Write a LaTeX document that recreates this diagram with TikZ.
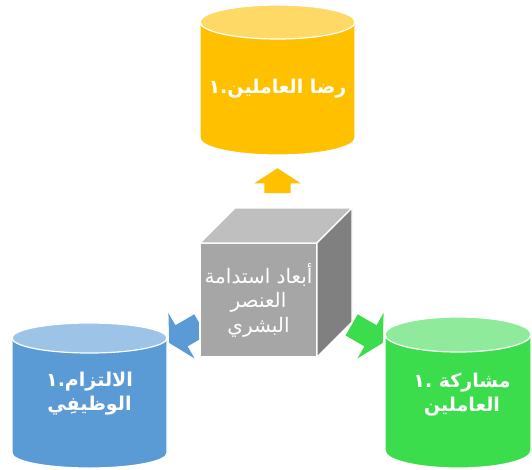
\documentclass[tikz,border=0pt]{standalone}
\usepackage{fontspec}
\newfontfamily\arabicfont[Script=Arabic]{DejaVu Sans}
\TeXXeTstate=1
\usepackage{xcolor}
\usetikzlibrary{shapes.arrows,positioning}

\definecolor{goldbody}{HTML}{FFC000}
\definecolor{goldtop}{HTML}{FFD966}
\definecolor{bluebody}{HTML}{5B9BD5}
\definecolor{bluetop}{HTML}{9DC3E6}
\definecolor{greenbody}{HTML}{3CDD4C}
\definecolor{greentop}{HTML}{8FEA9B}
\definecolor{cubefront}{HTML}{A6A6A6}
\definecolor{cubetop}{HTML}{BFBFBF}
\definecolor{cubeside}{HTML}{808080}

\begin{document}
\begin{tikzpicture}[
  x=1pt, y=1pt,
  rim/.style={draw=white, line width=1.2pt},
  lbl/.style={text=white, align=center, font=\arabicfont\bfseries\fontsize{19}{24}\selectfont},
  blockarrow/.style={single arrow, draw=none, inner xsep=0pt, minimum width=0pt, anchor=tip}]
\useasboundingbox (0,0) rectangle (532,-469);
% cylinders
\filldraw[rim, fill=goldbody] (200,-22) -- (200,-138)
  arc[start angle=180, end angle=360, x radius=77.5, y radius=17] -- (355,-22) -- cycle;
\filldraw[rim, fill=goldtop] (277.5,-22) ellipse[x radius=77.5, y radius=17];
\filldraw[rim, fill=bluebody] (12,-338) -- (12,-453)
  arc[start angle=180, end angle=360, x radius=77.5, y radius=15] -- (167,-338) -- cycle;
\filldraw[rim, fill=bluetop] (89.5,-338) ellipse[x radius=77.5, y radius=15];
\filldraw[rim, fill=greenbody] (385,-334.5) -- (385,-450.5)
  arc[start angle=180, end angle=360, x radius=73, y radius=17.5] -- (531,-334.5) -- cycle;
\filldraw[rim, fill=greentop] (458,-334.5) ellipse[x radius=73, y radius=17.5];
\node[lbl] (sat) at (277.5,-89) {\beginR رضا العاملين.١\endR};
\node[lbl] (commit) at (89.5,-394) {\beginR الالتزام.١\endR\\\beginR الوظيفِي\endR};
\node[lbl] (partic) at (462,-395) {\beginR مشاركة .١\endR\\\beginR العاملين\endR};
% arrows
\node[blockarrow, fill=goldbody, inner ysep=13pt, single arrow head extend=10pt,
  single arrow tip angle=114, minimum height=25pt, rotate=90] (up) at (277.5,-168) {};
\node[blockarrow, fill=bluebody, inner ysep=12pt, single arrow head extend=14pt,
  single arrow tip angle=123, minimum height=36pt, rotate=210] (toleft) at (169,-343) {};
\node[blockarrow, fill=greenbody, inner ysep=12pt, single arrow head extend=14pt,
  single arrow tip angle=123, minimum height=36pt, rotate=-30] (toright) at (383,-343) {};
% cube
\node[fill=cubefront, rim, outer sep=0pt, inner sep=1pt,
  minimum width=117pt, minimum height=114pt, text=white, align=center,
  font=\arabicfont\fontsize{20}{24.5}\selectfont] (cube) at (258.5,-300)
  {\beginR أبعاد استدامة\endR\\\beginR العنصر\endR\\\beginR البشري\endR};
\filldraw[rim, fill=cubetop] (cube.north west) -- ++(35,35) -- ++(117,0) -- (cube.north east) -- cycle;
\filldraw[rim, fill=cubeside] (cube.north east) -- ++(35,35) -- ++(0,-114) -- (cube.south east) -- cycle;
\end{tikzpicture}
\end{document}
